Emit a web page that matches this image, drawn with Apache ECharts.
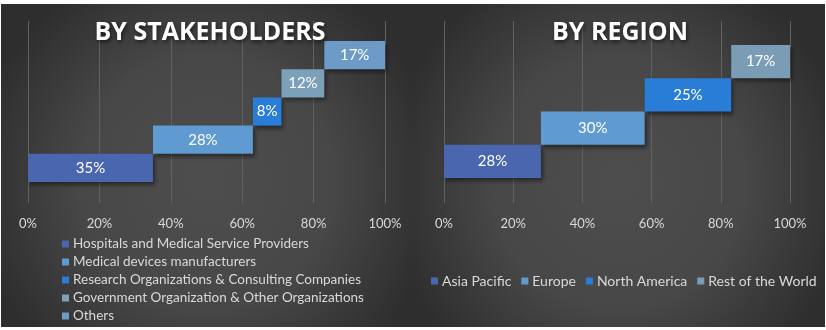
<!DOCTYPE html>
<html>
<head>
<meta charset="utf-8">
<style>
  html, body { margin: 0; padding: 0; background: #ffffff; }
  #chart { width: 826px; height: 330px; }
</style>
<script src="https://cdn.jsdelivr.net/npm/echarts@6/dist/echarts.min.js"></script>
</head>
<body>
<div id="chart"></div>
<script>
// Share by stakeholder (each row starts where the previous one ends)
const stakeholderNames = [
  'Hospitals and Medical Service Providers',
  'Medical devices manufacturers',
  'Research Organizations & Consulting Companies',
  'Government Organization & Other Organizations',
  'Others'
];
const stakeholderValues = [35, 28, 8, 12, 17];
const stakeholderColors = ['#4a66af', '#5f9bd1', '#2a7dd7', '#7c9fba', '#6b9bc6'];

// Share by region
const regionNames = ['Asia Pacific', 'Europe', 'North America', 'Rest of the World'];
const regionValues = [28, 30, 25, 17];
const regionColors = ['#4a66af', '#5f9bd1', '#2a7dd7', '#7a9db5'];

const tickValues = [0, 20, 40, 60, 80, 100];

const FONT = 'Lato, "Open Sans", sans-serif';
const TEXT = '#d9d9d9';

const chart = echarts.init(document.getElementById('chart'), null, { renderer: 'canvas' });

function panelBg(x, w) {
  return {
    type: 'rect', silent: true, z: -10,
    shape: { x: x, y: 4, width: w, height: 323 },
    style: {
      fill: new echarts.graphic.RadialGradient(0.5, 0.55, 0.72, [
        { offset: 0, color: '#4e4e4e' },
        { offset: 0.55, color: '#474747' },
        { offset: 1, color: '#2e2e2e' }
      ])
    }
  };
}

// Grid pairs: one for the gridlines/tick labels, one for the bar rows
const grids = [
  { left: 28, width: 357, top: 21, height: 182 },
  { left: 28, width: 357, top: 41, height: 141 },
  { left: 444, width: 346, top: 21, height: 182 },
  { left: 444, width: 346, top: 45, height: 133 }
];

function valueAxis(gridIndex, show) {
  return {
    type: 'value', gridIndex: gridIndex, min: 0, max: 100, interval: 20,
    show: show,
    axisLine: { show: false }, axisTick: { show: false },
    splitLine: { show: show, lineStyle: { color: '#616161', width: 1 } },
    axisLabel: {
      show: show, color: TEXT, fontFamily: FONT, fontSize: 13, margin: 14,
      formatter: v => tickValues.includes(v) ? v + '%' : ''
    }
  };
}

function rowAxis(gridIndex, n) {
  return {
    type: 'category', gridIndex: gridIndex, show: false,
    data: Array.from({ length: n }, (_, i) => i)
  };
}

// Cumulative starting offsets for the floating bars
function offsets(vals) {
  let acc = 0;
  return vals.map(v => { const o = acc; acc += v; return o; });
}

function buildSeries(names, vals, colors, xi, yi, stackId) {
  const out = [{
    type: 'bar', name: '_base_' + stackId, stack: stackId,
    xAxisIndex: xi, yAxisIndex: yi, silent: true,
    itemStyle: { color: 'transparent' },
    barCategoryGap: 0,
    data: offsets(vals)
  }];
  names.forEach((name, i) => {
    out.push({
      type: 'bar', name: name, stack: stackId,
      xAxisIndex: xi, yAxisIndex: yi,
      barCategoryGap: 0,
      itemStyle: {
        color: colors[i],
        shadowColor: 'rgba(0,0,0,0.45)', shadowBlur: 4,
        shadowOffsetX: 2, shadowOffsetY: 3
      },
      label: {
        show: true, position: 'inside', color: '#ffffff',
        fontFamily: FONT, fontSize: 15,
        formatter: p => p.value + '%'
      },
      data: vals.map((v, j) => (j === i ? v : '-'))
    });
  });
  return out;
}

const titleStyle = {
  color: '#ffffff', fontFamily: '"Open Sans", sans-serif', fontWeight: 'bold', fontSize: 25,
  textShadowColor: 'rgba(0,0,0,0.6)', textShadowBlur: 4, textShadowOffsetX: 1, textShadowOffsetY: 2
};

const option = {
  animation: false,
  backgroundColor: '#ffffff',
  graphic: [panelBg(1, 411), panelBg(412, 413)],
  title: [
    { text: 'BY STAKEHOLDERS', left: 205, top: 15, textAlign: 'center', textStyle: titleStyle },
    { text: 'BY REGION', left: 615, top: 15, textAlign: 'center', textStyle: titleStyle }
  ],
  legend: [
    {
      data: stakeholderNames, orient: 'vertical', left: 62, top: 237, padding: 0,
      icon: 'rect', itemWidth: 7, itemHeight: 7, itemGap: 4,
      textStyle: { color: TEXT, fontFamily: FONT, fontSize: 13.5, padding: [0, 0, 0, -1] }
    },
    {
      data: regionNames, orient: 'horizontal', left: 431, top: 274, padding: 0, width: 395,
      icon: 'rect', itemWidth: 7, itemHeight: 7, itemGap: 10,
      textStyle: { color: TEXT, fontFamily: FONT, fontSize: 14, padding: [0, 0, 0, -1] }
    }
  ],
  grid: grids,
  xAxis: [valueAxis(0, true), valueAxis(1, false), valueAxis(2, true), valueAxis(3, false)],
  yAxis: [
    rowAxis(0, 1), rowAxis(1, stakeholderValues.length),
    rowAxis(2, 1), rowAxis(3, regionValues.length)
  ],
  series: [
    // empty series keeps the gridline grids active
    { type: 'bar', xAxisIndex: 0, yAxisIndex: 0, data: [], silent: true },
    { type: 'bar', xAxisIndex: 2, yAxisIndex: 2, data: [], silent: true },
    ...buildSeries(stakeholderNames, stakeholderValues, stakeholderColors, 1, 1, 's'),
    ...buildSeries(regionNames, regionValues, regionColors, 3, 3, 'r')
  ]
};

chart.setOption(option);
</script>
</body>
</html>
